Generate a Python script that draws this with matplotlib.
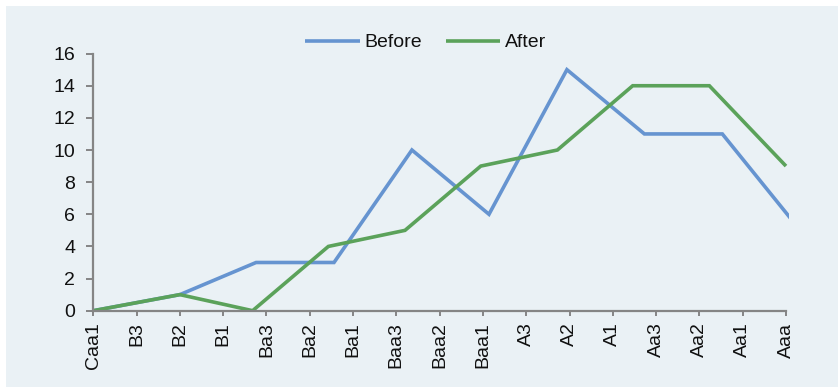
import matplotlib
matplotlib.use('Agg')
import matplotlib.pyplot as plt
from matplotlib.patches import Rectangle

# rating categories along the x axis
categories = ['Caa1', 'B3', 'B2', 'B1', 'Ba3', 'Ba2', 'Ba1', 'Baa3', 'Baa2',
              'Baa1', 'A3', 'A2', 'A1', 'Aa3', 'Aa2', 'Aa1', 'Aaa']

# each series carries its own x positions (in category units)
before_x = [0, 2, 3.76, 5.56, 7.36, 9.14, 10.94, 12.73, 14.53, 16.33]
before_y = [0, 1, 3, 3, 10, 6, 15, 11, 11, 5]
after_x = [0, 2, 3.68, 5.43, 7.2, 8.95, 10.72, 12.46, 14.23, 16]
after_y = [0, 1, 0, 4, 5, 9, 10, 14, 14, 9]

plt.rcParams['font.family'] = ['Liberation Sans', 'DejaVu Sans']

W, H = 840, 388
fig = plt.figure(figsize=(W / 100, H / 100), dpi=100)
fig.patch.set_facecolor('white')
bg = '#eaf1f5'
fig.add_artist(Rectangle((6 / W, 1 - 387 / H), 832 / W, 381 / H,
                         transform=fig.transFigure, facecolor=bg,
                         edgecolor='none', zorder=-10))

ax = fig.add_axes([93.3 / W, 1 - 310.7 / H, (789 - 93.3) / W, (310.7 - 53.6) / H])
ax.patch.set_alpha(0)

ax.plot(before_x, before_y, color='#6694d0', lw=2.6, label='Before',
        solid_joinstyle='miter', solid_capstyle='butt')
ax.plot(after_x, after_y, color='#5ba25a', lw=2.6, label='After',
        solid_joinstyle='miter', solid_capstyle='butt')

ax.set_xlim(0, 16.07)
ax.set_ylim(0, 16)
ax.set_yticks(range(0, 17, 2))
ax.set_xticks(range(len(categories)))
ax.set_xticklabels(categories, rotation=90, va='top', ha='center')

for s in ['top', 'right']:
    ax.spines[s].set_visible(False)
for s in ['left', 'bottom']:
    ax.spines[s].set_color('#858585')
    ax.spines[s].set_linewidth(1.6)
ax.spines['bottom'].set_bounds(0, 16)

ax.tick_params(axis='y', length=5, width=1.4, color='#858585', pad=8,
               labelsize=14, labelcolor='#111111')
ax.tick_params(axis='x', length=3.5, width=1.4, color='#858585', pad=5,
               labelsize=14, labelcolor='#111111')

leg = fig.legend(loc='center', bbox_to_anchor=(0.507, 0.89), ncol=2,
                 frameon=False, fontsize=14, handlelength=2.8,
                 handletextpad=0.25, columnspacing=1.2)
for t in leg.get_texts():
    t.set_color('#111111')

fig.savefig('out.png', dpi=100, facecolor=fig.get_facecolor())
